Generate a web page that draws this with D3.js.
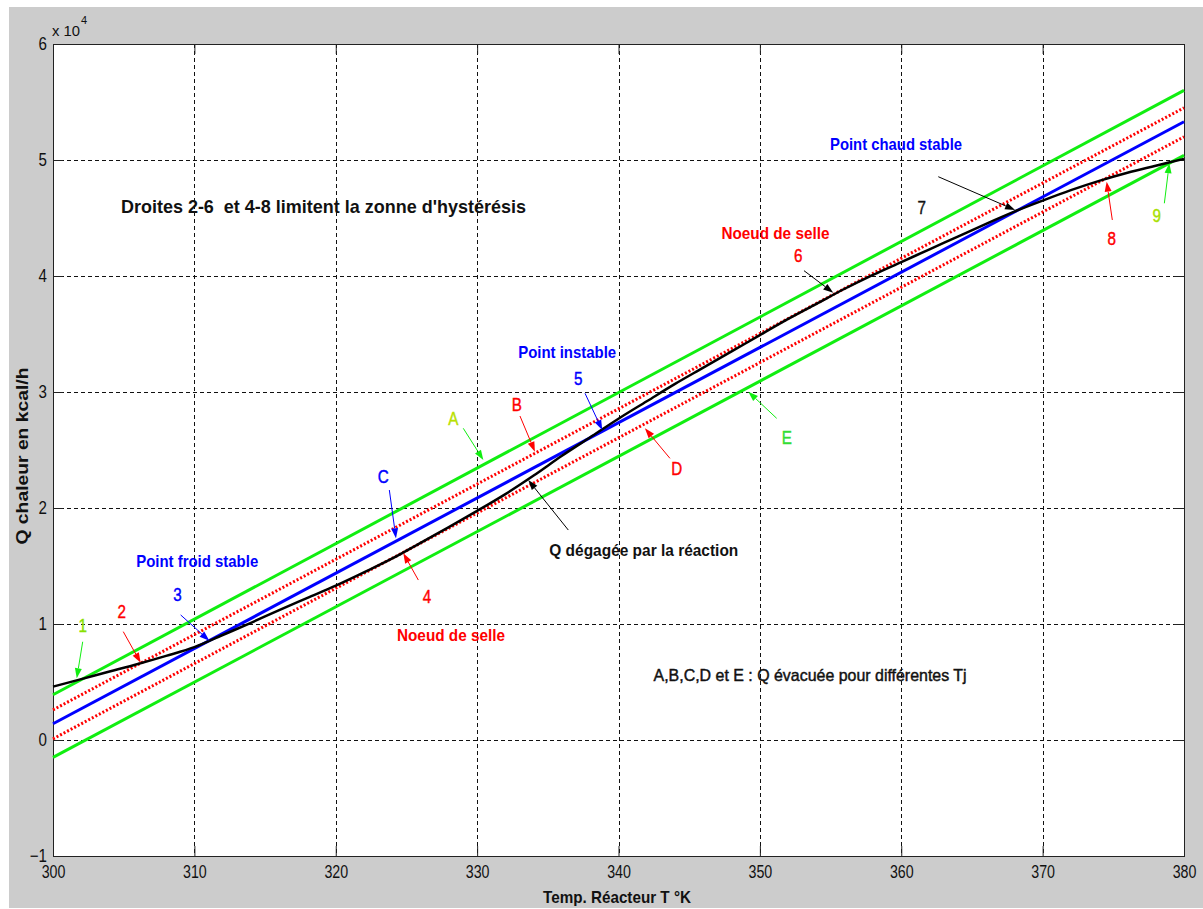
<!DOCTYPE html>
<html>
<head>
<meta charset="utf-8">
<script src="https://cdn.jsdelivr.net/npm/d3@7"></script>
<style>
  body { margin: 0; background: #ffffff; }
  svg text { font-family: "Liberation Sans", Arial, Helvetica, sans-serif; white-space: pre; }
</style>
</head>
<body>
<svg id="fig" width="1203" height="909"></svg>
<script>
// ---- Axes ----
const tempDomain = [300, 380];
const qDomain = [-1, 6];
const tempTicks = [300, 310, 320, 330, 340, 350, 360, 370, 380];
const qTicks = [-1, 0, 1, 2, 3, 4, 5, 6];
const qExponent = "4";

// ---- Heat removed by the jacket (x 10^4 kcal/h), one straight line per Tj ----
const removalNames = ["A", "B", "C", "D", "E"];
const removalT = [300, 380];
const removalQ300 = [0.39, 0.26, 0.14, 0.01, -0.15];
const removalQ380 = [5.60, 5.45, 5.33, 5.20, 5.04];

// ---- Heat released by the reaction (x 10^4 kcal/h) ----
const genT = [300, 302, 304, 306, 308, 310, 312, 314, 316, 318, 320, 322, 324, 326, 328, 330,
              332, 334, 336, 338, 340, 342, 344, 346, 348, 350, 352, 354, 356, 358, 360,
              362, 364, 366, 368, 370, 372, 374, 376, 378, 380];
const genQ = [0.46, 0.525, 0.59, 0.655, 0.725, 0.80, 0.905, 1.01, 1.12, 1.225, 1.33, 1.445, 1.565, 1.70, 1.835, 1.975,
              2.12, 2.28, 2.45, 2.61, 2.77, 2.92, 3.07, 3.21, 3.35, 3.49, 3.63, 3.76, 3.89, 4.01, 4.12,
              4.23, 4.34, 4.45, 4.555, 4.65, 4.74, 4.82, 4.89, 4.95, 5.01];

// ---- Annotation texts ----
const xTitle = "Temp. Réacteur T °K";
const yTitle = "Q chaleur en kcal/h";
const noteTexts = [
  "Droites 2-6  et 4-8 limitent la zonne d'hystérésis",
  "Point froid stable", "Point instable", "Point chaud stable",
  "Noeud de selle", "Noeud de selle",
  "Q dégagée par la réaction",
  "A,B,C,D et E : Q évacuée pour différentes Tj"
];
const markerTexts = ["1", "2", "3", "4", "5", "6", "7", "8", "9", "A", "B", "C", "D", "E"];

// ---------------------------------------------------------------------------
const W = 1203, H = 909;
const svg = d3.select("#fig");

const x = d3.scaleLinear().domain(tempDomain).range([53, 1184]);
const y = d3.scaleLinear().domain(qDomain).range([856, 44]);

const GREEN = "#11ee11", RED = "#ff0000", BLUE = "#0000ff", BLACK = "#000000";

// figure background
svg.append("rect").attr("x", 9).attr("y", 7).attr("width", W - 9).attr("height", 901).attr("fill", "#cccccc");
svg.append("rect").attr("x", x(300)).attr("y", y(6))
   .attr("width", x(380) - x(300)).attr("height", y(-1) - y(6)).attr("fill", "#ffffff");

// dashed grid
const grid = svg.append("g").attr("stroke", "#111").attr("stroke-width", 1).attr("stroke-dasharray", "4,3");
grid.selectAll("line.gx").data(tempTicks.slice(1, -1)).join("line")
    .attr("x1", d => Math.round(x(d)) + 0.5).attr("x2", d => Math.round(x(d)) + 0.5)
    .attr("y1", y(6)).attr("y2", y(-1));
grid.selectAll("line.gy").data(qTicks.slice(1, -1)).join("line")
    .attr("y1", d => Math.round(y(d)) + 0.5).attr("y2", d => Math.round(y(d)) + 0.5)
    .attr("x1", x(300)).attr("x2", x(380));

// condense a text element horizontally
function condense(sel, f) {
  sel.each(function () {
    const w = this.getComputedTextLength();
    d3.select(this).attr("textLength", w * f).attr("lengthAdjust", "spacingAndGlyphs");
  });
}

// axes with inward ticks on all four sides
const fontAxis = '"Liberation Sans", Arial, sans-serif';
const fmt = d3.format("d");
const gB = svg.append("g").attr("transform", `translate(0,${y(-1)})`)
  .call(d3.axisBottom(x).tickValues(tempTicks).tickFormat(fmt).tickSizeInner(-10).tickSizeOuter(0).tickPadding(9));
const gL = svg.append("g").attr("transform", `translate(${x(300)},0)`)
  .call(d3.axisLeft(y).tickValues(qTicks).tickFormat(fmt).tickSizeInner(-10).tickSizeOuter(0).tickPadding(6));
const gT = svg.append("g").attr("transform", `translate(0,${y(6)})`)
  .call(d3.axisTop(x).tickValues(tempTicks).tickSizeInner(-10).tickSizeOuter(0).tickFormat(""));
const gR = svg.append("g").attr("transform", `translate(${x(380)},0)`)
  .call(d3.axisRight(y).tickValues(qTicks).tickSizeInner(-10).tickSizeOuter(0).tickFormat(""));
[gB, gL, gT, gR].forEach(g => {
  g.select(".domain").remove();
  g.attr("font-family", fontAxis).attr("font-size", 18);
  g.selectAll(".tick line").attr("stroke", "#222");
  g.selectAll(".tick text").attr("fill", "#111");
});
condense(gB.selectAll(".tick text"), 0.79);
condense(gL.selectAll(".tick text"), 0.84);

// axes box
svg.append("rect").attr("x", x(300) + 0.5).attr("y", y(6) + 0.5)
   .attr("width", x(380) - x(300)).attr("height", y(-1) - y(6))
   .attr("fill", "none").attr("stroke", "#222").attr("stroke-width", 1);

// exponent marker
svg.append("text").attr("x", 52).attr("y", 36).attr("font-size", 15).attr("fill", "#111")
   .text("x 10").attr("textLength", 28).attr("lengthAdjust", "spacingAndGlyphs");
svg.append("text").attr("x", 81).attr("y", 24).attr("font-size", 11).attr("fill", "#111").text(qExponent);

// axis titles
const xt = svg.append("text").attr("x", 617).attr("y", 897).attr("dy", "0.35em")
  .attr("text-anchor", "middle").attr("font-size", 17).attr("font-weight", "bold").attr("fill", "#111").text(xTitle);
xt.attr("textLength", 148).attr("lengthAdjust", "spacingAndGlyphs");
const yt = svg.append("text").attr("transform", "translate(22,456) rotate(-90)").attr("dy", "0.35em")
  .attr("text-anchor", "middle").attr("font-size", 17).attr("font-weight", "bold").attr("fill", "#111").text(yTitle);
yt.attr("textLength", 177).attr("lengthAdjust", "spacingAndGlyphs");

// ---- plotted lines ----
const plot = svg.append("g");
const removalStyle = [
  { color: GREEN, width: 3, dash: null },
  { color: RED, width: 3, dash: "2,2" },
  { color: BLUE, width: 3, dash: null },
  { color: RED, width: 3, dash: "2,2" },
  { color: GREEN, width: 3, dash: null }
];
const line = d3.line().x(d => x(d[0])).y(d => y(d[1]));
removalNames.forEach((name, i) => {
  const pts = [[removalT[0], removalQ300[i]], [removalT[1], removalQ380[i]]];
  plot.append("path").attr("d", line(pts)).attr("fill", "none")
    .attr("stroke", removalStyle[i].color).attr("stroke-width", removalStyle[i].width)
    .attr("stroke-dasharray", removalStyle[i].dash);
});
const genLine = d3.line().curve(d3.curveMonotoneX).x(d => x(d[0])).y(d => y(d[1]));
plot.append("path").attr("d", genLine(genT.map((t, i) => [t, genQ[i]])))
  .attr("fill", "none").attr("stroke", BLACK).attr("stroke-width", 2.5);

// ---- annotations ----
const ann = svg.append("g");
function arrow(t0, q0, t1, q1, color) {
  const x0 = x(t0), y0 = y(q0), x1 = x(t1), y1 = y(q1);
  const a = Math.atan2(y1 - y0, x1 - x0), L = 10, hw = 3.5;
  const bx = x1 - L * Math.cos(a), by = y1 - L * Math.sin(a);
  ann.append("line").attr("x1", x0).attr("y1", y0).attr("x2", bx).attr("y2", by)
    .attr("stroke", color).attr("stroke-width", 1);
  ann.append("path")
    .attr("d", `M${x1},${y1}L${bx + hw * Math.sin(a)},${by - hw * Math.cos(a)}L${bx - hw * Math.sin(a)},${by + hw * Math.cos(a)}Z`)
    .attr("fill", color);
}
function label(str, t, q, color, size, weight, len, boldish) {
  const el = ann.append("text").attr("x", x(t)).attr("y", y(q)).attr("dy", "0.35em")
    .attr("text-anchor", "middle").attr("font-size", size).attr("font-weight", weight)
    .attr("fill", color).text(str);
  if (boldish) el.attr("stroke", color).attr("stroke-width", 0.45);
  if (len) el.attr("textLength", len).attr("lengthAdjust", "spacingAndGlyphs");
  else condense(el, 0.8);
  return el;
}

// arrows pointing at intersections / tangencies
arrow(302.10, 0.847, 301.68, 0.532, GREEN);   // 1
arrow(304.97, 0.934, 306.20, 0.666, RED);     // 2
arrow(309.03, 1.078, 311.06, 0.856, BLUE);    // 3
arrow(325.84, 1.379, 324.78, 1.610, RED);     // 4
arrow(337.63, 2.989, 338.85, 2.672, BLUE);    // 5
arrow(353.12, 4.046, 355.19, 3.856, BLACK);   // 6
arrow(362.62, 4.856, 368.05, 4.569, BLACK);   // 7
arrow(374.93, 4.483, 374.53, 4.813, RED);     // 8
arrow(378.61, 4.627, 378.96, 4.972, GREEN);   // 9
arrow(329.02, 2.687, 330.44, 2.414, GREEN);   // A
arrow(333.03, 2.793, 334.09, 2.485, RED);     // B
arrow(323.79, 2.155, 324.26, 1.739, BLUE);    // C
arrow(343.64, 2.428, 341.87, 2.687, RED);     // D
arrow(351.19, 2.773, 349.18, 3.003, GREEN);   // E
arrow(336.45, 1.810, 333.62, 2.241, BLACK);   // Q dégagée

// point numbers and line letters
const markerPos = [
  [302.1, 0.991, "#88e000"], [304.86, 1.106, RED], [308.8, 1.259, BLUE], [326.45, 1.241, RED],
  [337.16, 3.118, BLUE], [352.72, 4.181, RED], [361.45, 4.595, "#111"], [374.89, 4.325, RED],
  [378.07, 4.526, "#a8e000"],
  [328.31, 2.773, "#b8e000"], [332.8, 2.897, RED], [323.36, 2.27, BLUE], [344.12, 2.342, RED],
  [351.9, 2.612, "#33dd33"]
];
markerTexts.forEach((s, i) => label(s, markerPos[i][0], markerPos[i][1], markerPos[i][2], 19, "normal", null, true));

// descriptive notes
label(noteTexts[0], 319.13, 4.597, "#111", 19, "bold", 405);
label(noteTexts[1], 310.2, 1.546, BLUE, 17, "bold", 122);
label(noteTexts[2], 336.37, 3.347, BLUE, 17, "bold", 98);
label(noteTexts[3], 359.63, 5.138, BLUE, 17, "bold", 132);
label(noteTexts[4], 351.1, 4.368, RED, 17, "bold", 108);
label(noteTexts[5], 328.15, 0.905, RED, 17, "bold", 108);
label(noteTexts[6], 341.79, 1.638, "#111", 17, "bold", 189);
label(noteTexts[7], 353.55, 0.560, "#111", 17, "normal", 313, true);
</script>
</body>
</html>
